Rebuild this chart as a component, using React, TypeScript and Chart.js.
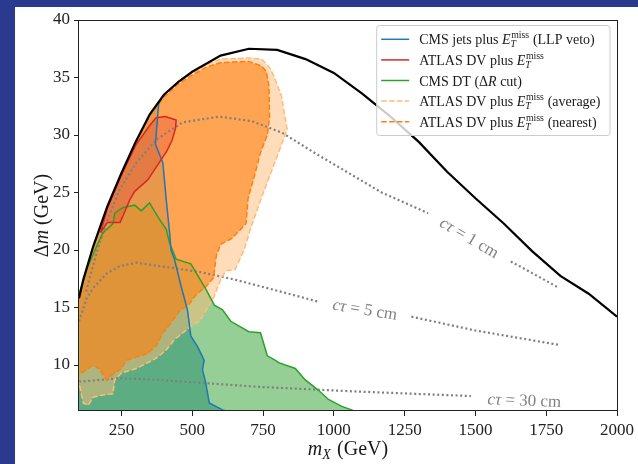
import React, { useEffect, useRef } from "react";
import { Chart, registerables } from "chart.js";

Chart.register(...registerables);

// ---- axes ----
const X_MIN = 100;
const X_MAX = 2000;
const Y_MIN = 6;
const Y_MAX = 40;
const X_TICKS = [250, 500, 750, 1000, 1250, 1500, 1750, 2000];
const Y_TICKS = [10, 15, 20, 25, 30, 35, 40];

// ---- kinematic edge (solid black) ----
const EDGE_X = [100, 115, 150, 200, 250, 300, 350, 400, 450, 500, 600, 700, 800, 900, 1000, 1100, 1200, 1300, 1400, 1500, 1600, 1700, 1800, 1900, 2000];
const EDGE_Y = [15.8, 17.4, 20.3, 23.8, 26.7, 29.4, 31.8, 33.5, 34.6, 35.5, 36.9, 37.5, 37.4, 36.6, 35.4, 33.6, 31.6, 29.4, 26.8, 24.5, 22.3, 19.9, 17.75, 16.2, 14.2];

// ---- CMS jets plus MET (LLP veto) ----
const JETS_X = [382, 374, 370, 396, 408, 420, 425, 437, 461, 483, 495, 519, 542, 536, 548, 560, 607, 622];
const JETS_Y = [32.9, 30.5, 29.2, 27.6, 24.4, 21.5, 20.0, 19.2, 16.8, 14.8, 12.5, 11.6, 10.4, 9.6, 8.4, 6.7, 6.1, 6.0];

// ---- ATLAS DV plus MET ----
const DV_X = [176, 200, 245, 256, 280, 297, 343, 378, 410, 428, 441, 443, 405, 372, 349, 300, 250, 200, 176];
const DV_Y = [21.5, 22.4, 22.4, 23.0, 24.4, 25.1, 26.1, 27.4, 28.6, 29.5, 30.6, 31.3, 31.6, 31.5, 30.8, 29.1, 26.5, 23.6, 21.5];

// ---- CMS DT (Delta R cut) ----
const DT_X = [100, 115, 127, 162, 185, 220, 226, 256, 297, 320, 349, 378, 408, 420, 443, 495, 548, 578, 607, 636, 700, 741, 765, 794, 805, 864, 899, 946, 981, 1028, 1063, 1070];
const DT_Y = [16.2, 17.3, 18.3, 20.3, 21.5, 22.3, 23.2, 23.7, 23.9, 23.4, 24.1, 22.9, 21.8, 20.6, 19.2, 18.8, 16.6, 15.2, 14.8, 13.8, 12.9, 12.8, 10.8, 10.4, 10.2, 9.7, 8.7, 7.8, 7.0, 6.4, 6.1, 6.0];

// ---- ATLAS DV plus MET (average) ----
const AVG_X = [100, 115, 150, 200, 250, 300, 350, 400, 450, 500, 550, 600, 700, 745, 775, 790, 815, 835, 822, 782, 742, 705, 683, 651, 620, 603, 573, 525, 502, 437, 408, 373, 343, 303, 250, 226, 220, 185, 150, 132, 115, 103, 100];
const AVG_Y = [15.6, 17.2, 20.1, 23.6, 26.5, 29.2, 31.6, 33.3, 34.4, 35.3, 36.1, 36.6, 36.7, 36.6, 35.8, 35.0, 33.4, 30.5, 29.6, 27.0, 24.4, 21.8, 20.0, 18.3, 18.2, 17.6, 15.7, 13.8, 13.5, 12.2, 11.3, 10.6, 10.2, 9.7, 9.3, 8.7, 7.5, 7.4, 7.2, 6.5, 6.7, 8.1, 8.5];

// ---- ATLAS DV plus MET (nearest) ----
const NEAR_X = [100, 115, 150, 200, 250, 300, 350, 400, 450, 500, 550, 600, 700, 745, 762, 771, 773, 765, 740, 718, 697, 690, 640, 600, 585, 575, 548, 513, 490, 455, 420, 396, 373, 343, 267, 250, 226, 197, 174, 150, 103, 100];
const NEAR_Y = [15.6, 17.2, 20.1, 23.6, 26.5, 29.2, 31.6, 33.3, 34.4, 35.2, 35.9, 36.3, 36.4, 36.0, 35.5, 34.2, 31.5, 30.0, 28.4, 26.3, 24.5, 22.3, 21.0, 20.5, 19.5, 17.6, 16.8, 16.1, 15.3, 14.7, 13.5, 12.8, 11.7, 11.0, 10.4, 9.7, 9.3, 8.7, 9.6, 10.0, 9.2, 9.2];

// ---- lifetime contours (dotted), split where the inline label sits ----
const CT1_A_X = [125, 139, 156, 174, 191, 244, 303, 373, 466, 595, 711, 817, 935, 1052, 1169, 1333];
const CT1_A_Y = [16.4, 17.7, 19.2, 20.7, 22.0, 25.3, 27.6, 29.6, 31.1, 31.6, 31.2, 30.2, 28.4, 26.7, 25.0, 23.2];
const CT1_B_X = [1625, 1700, 1795];
const CT1_B_Y = [19.0, 18.0, 16.7];
const CT5_A_X = [100, 127, 150, 200, 244, 303, 384, 525, 654, 794, 946];
const CT5_A_Y = [13.8, 15.8, 16.7, 18.0, 18.6, 18.9, 18.6, 18.1, 17.4, 16.5, 15.5];
const CT5_B_X = [1274, 1500, 1795];
const CT5_B_Y = [14.2, 13.0, 11.75];
const CT30_X = [100, 244, 384, 560, 735, 1075, 1484];
const CT30_Y = [8.55, 8.85, 8.7, 8.4, 8.1, 7.7, 7.3];
const CT30_LABEL_AT = { x: 1673, y: 6.95 };
const CT_VALUES = ["1", "5", "30"];

// ---- colours ----
const C_BLUE = "#1f77b4";
const C_RED = "#d62728";
const C_GREEN = "#2ca02c";
const C_AVG = "#ffbb78";
const C_NEAR = "#ff7f0e";
const C_DOT = "#7f7f7f";

const FAMILY = '"Liberation Serif", "Times New Roman", serif';
const font = (size: number, italic = false) => `${italic ? "italic " : ""}${size}px ${FAMILY}`;

const pts = (xs: number[], ys: number[]) => xs.map((x, i) => ({ x, y: ys[i] }));

// ---- rich text (italic math, super/subscripts) ----
type Piece = { t?: string; it?: boolean; sup?: string; sub?: string };
const rm = (t: string): Piece => ({ t });
const it = (t: string): Piece => ({ t, it: true });
const scr = (sup?: string, sub?: string): Piece => ({ sup, sub });

const MET: Piece[] = [it("E"), scr("miss", "T")];
const LEGEND_LABELS: Piece[][] = [
  [rm("CMS jets plus "), ...MET, rm(" (LLP veto)")],
  [rm("ATLAS DV plus "), ...MET],
  [rm("CMS DT ("), rm("\u0394"), it("R"), rm(" cut)")],
  [rm("ATLAS DV plus "), ...MET, rm(" (average)")],
  [rm("ATLAS DV plus "), ...MET, rm(" (nearest)")],
];
const X_TITLE: Piece[] = [it("m"), scr(undefined, "X"), rm(" (GeV)")];
const Y_TITLE: Piece[] = [rm("\u0394"), it("m"), rm(" (GeV)")];
const ctLabel = (v: string): Piece[] => [it("c"), it("\u03c4"), rm(` = ${v} cm`)];

function pieceWidth(ctx: CanvasRenderingContext2D, p: Piece, size: number) {
  if (p.t !== undefined) {
    ctx.font = font(size, p.it);
    return ctx.measureText(p.t).width;
  }
  const s = size * 0.7;
  let w = 0;
  if (p.sup) {
    ctx.font = font(s);
    w = Math.max(w, ctx.measureText(p.sup).width);
  }
  if (p.sub) {
    ctx.font = font(s, true);
    w = Math.max(w, ctx.measureText(p.sub).width);
  }
  return w + size * 0.06;
}
const richWidth = (ctx: CanvasRenderingContext2D, ps: Piece[], size: number) =>
  ps.reduce((w, p) => w + pieceWidth(ctx, p, size), 0);

function drawRich(ctx: CanvasRenderingContext2D, ps: Piece[], x: number, y: number, size: number) {
  let cx = x;
  ctx.textBaseline = "alphabetic";
  ctx.textAlign = "left";
  for (const p of ps) {
    if (p.t !== undefined) {
      ctx.font = font(size, p.it);
      ctx.fillText(p.t, cx, y);
    } else {
      const s = size * 0.7;
      if (p.sup) {
        ctx.font = font(s);
        ctx.fillText(p.sup, cx + size * 0.04, y - size * 0.42);
      }
      if (p.sub) {
        ctx.font = font(s, true);
        ctx.fillText(p.sub, cx, y + size * 0.2);
      }
    }
    cx += pieceWidth(ctx, p, size);
  }
}

// page backdrop, frame, inline labels, legend and axis titles
const decor = {
  id: "decor",
  beforeDraw(chart: any) {
    const { ctx, width, height } = chart;
    ctx.save();
    ctx.fillStyle = "#2a3a8e";
    ctx.fillRect(0, 0, width, height);
    ctx.fillStyle = "#ffffff";
    ctx.fillRect(15, 7, width - 15, height - 7);
    ctx.restore();
  },
  afterDatasetsDraw(chart: any) {
    const { ctx, chartArea: a, scales } = chart;
    const xs = scales.x;
    const ys = scales.y;
    const px = (x: number) => xs.getPixelForValue(x);
    const py = (y: number) => ys.getPixelForValue(y);
    ctx.save();

    // contour labels, centred in the gaps and aligned with the line
    ctx.fillStyle = "#808080";
    const labelSize = 17;
    const gaps = [
      { a: { x: CT1_A_X[CT1_A_X.length - 1], y: CT1_A_Y[CT1_A_Y.length - 1] }, b: { x: CT1_B_X[0], y: CT1_B_Y[0] } },
      { a: { x: CT5_A_X[CT5_A_X.length - 1], y: CT5_A_Y[CT5_A_Y.length - 1] }, b: { x: CT5_B_X[0], y: CT5_B_Y[0] } },
    ];
    const placements = gaps.map((g) => {
      const x0 = px(g.a.x), y0 = py(g.a.y), x1 = px(g.b.x), y1 = py(g.b.y);
      return { cx: (x0 + x1) / 2, cy: (y0 + y1) / 2, ang: Math.atan2(y1 - y0, x1 - x0) };
    });
    {
      const n = CT30_X.length;
      const ang = Math.atan2(py(CT30_Y[n - 1]) - py(CT30_Y[n - 2]), px(CT30_X[n - 1]) - px(CT30_X[n - 2]));
      placements.push({ cx: px(CT30_LABEL_AT.x), cy: py(CT30_LABEL_AT.y), ang });
    }
    placements.forEach((pl, i) => {
      const ps = ctLabel(CT_VALUES[i]);
      const w = richWidth(ctx, ps, labelSize);
      ctx.save();
      ctx.translate(pl.cx, pl.cy);
      ctx.rotate(pl.ang);
      drawRich(ctx, ps, -w / 2, labelSize * 0.33, labelSize);
      ctx.restore();
    });

    // frame
    ctx.strokeStyle = "#222";
    ctx.lineWidth = 1;
    ctx.strokeRect(Math.round(a.left) - 0.5, Math.round(a.top) + 0.5, Math.round(a.right - a.left) + 1, Math.round(a.bottom - a.top) - 1);

    // legend
    const size = 14;
    const sets = chart.data.datasets.filter((d: any) => d.legendIndex !== undefined).sort((p: any, q: any) => p.legendIndex - q.legendIndex);
    const textW = Math.max(...LEGEND_LABELS.map((l) => richWidth(ctx, l, size)));
    const rowH = 20.6;
    const boxW = textW + 43 + 9;
    const boxH = rowH * LEGEND_LABELS.length + 7;
    const bx = a.right - 7.5 - boxW;
    const by = a.top + 5;
    ctx.beginPath();
    ctx.roundRect(bx + 0.5, by + 0.5, boxW, boxH, 3);
    ctx.fillStyle = "rgba(255,255,255,0.8)";
    ctx.fill();
    ctx.strokeStyle = "#cccccc";
    ctx.lineWidth = 1;
    ctx.stroke();
    sets.forEach((d: any, i: number) => {
      const cy = by + 14.3 + i * rowH;
      ctx.beginPath();
      ctx.setLineDash(d.borderDash || []);
      ctx.strokeStyle = d.borderColor;
      ctx.lineWidth = d.borderWidth;
      ctx.moveTo(bx + 5, cy);
      ctx.lineTo(bx + 33, cy);
      ctx.stroke();
      ctx.setLineDash([]);
      ctx.fillStyle = "#1a1a1a";
      drawRich(ctx, LEGEND_LABELS[i], bx + 43, cy + 5, size);
    });

    // axis titles
    const tSize = 20;
    ctx.fillStyle = "#1a1a1a";
    const wx = richWidth(ctx, X_TITLE, tSize);
    drawRich(ctx, X_TITLE, (a.left + a.right) / 2 - wx / 2, 455, tSize);
    const wy = richWidth(ctx, Y_TITLE, tSize);
    ctx.save();
    ctx.translate(48, (a.top + a.bottom) / 2);
    ctx.rotate(-Math.PI / 2);
    drawRich(ctx, Y_TITLE, -wy / 2, 0, tSize);
    ctx.restore();

    ctx.restore();
  },
};

const fillSet = (label: string, data: any[], color: string, order: number) => ({
  label,
  data,
  fill: "shape",
  backgroundColor: color,
  borderColor: "rgba(0,0,0,0)",
  borderWidth: 0,
  pointRadius: 0,
  tension: 0,
  order,
});

const lineSet = (label: string, data: any[], color: string, width: number, dash: number[], order: number, legendIndex?: number) => ({
  label,
  data,
  fill: false,
  borderColor: color,
  borderWidth: width,
  borderDash: dash,
  borderCapStyle: "butt",
  pointRadius: 0,
  tension: 0,
  order,
  legendIndex,
});

export default function App() {
  const ref = useRef<HTMLCanvasElement | null>(null);

  useEffect(() => {
    if (!ref.current) return;
    const edge = pts(EDGE_X, EDGE_Y);
    const jets = pts(JETS_X, JETS_Y);
    const dt = pts(DT_X, DT_Y);
    const jetsStart = JETS_X[0];
    const jetsRegion = [...jets, { x: X_MIN, y: Y_MIN }, ...edge.filter((p) => p.x < jetsStart)];
    const dtRegion = [...dt, { x: X_MIN, y: Y_MIN }];
    const tickFont = { family: FAMILY, size: 17 };

    const chart = new Chart(ref.current, {
      type: "line",
      data: {
        datasets: [
          // fills, bottom to top
          fillSet("jets region", jetsRegion, "rgba(31,119,180,0.5)", 100),
          fillSet("DT region", dtRegion, "rgba(44,160,44,0.5)", 99),
          fillSet("average region", pts(AVG_X, AVG_Y), "rgba(255,187,120,0.5)", 98),
          fillSet("nearest region", pts(NEAR_X, NEAR_Y), "rgba(255,127,14,0.6)", 97),
          fillSet("DV region", pts(DV_X, DV_Y), "rgba(214,39,40,0.25)", 96),
          // lifetime contours
          lineSet("ct1a", pts(CT1_A_X, CT1_A_Y), C_DOT, 2.2, [2, 2.6], 50),
          lineSet("ct1b", pts(CT1_B_X, CT1_B_Y), C_DOT, 2.2, [2, 2.6], 50),
          lineSet("ct5a", pts(CT5_A_X, CT5_A_Y), C_DOT, 2.2, [2, 2.6], 50),
          lineSet("ct5b", pts(CT5_B_X, CT5_B_Y), C_DOT, 2.2, [2, 2.6], 50),
          lineSet("ct30", pts(CT30_X, CT30_Y), C_DOT, 2.2, [2, 2.6], 50),
          // outlines
          lineSet("ATLAS DV plus MET (average)", pts(AVG_X, AVG_Y), C_AVG, 1.5, [5.5, 2.4], 40, 3),
          lineSet("ATLAS DV plus MET (nearest)", pts(NEAR_X, NEAR_Y), C_NEAR, 1.5, [5.5, 2.4], 39, 4),
          lineSet("CMS DT", dt, C_GREEN, 1.5, [], 38, 2),
          lineSet("CMS jets plus MET (LLP veto)", jets, C_BLUE, 1.5, [], 37, 0),
          lineSet("ATLAS DV plus MET", pts(DV_X, DV_Y), C_RED, 1.5, [], 36, 1),
          lineSet("edge", edge, "#000000", 2.2, [], 30),
        ] as any,
      },
      options: {
        animation: false,
        responsive: false,
        devicePixelRatio: 1,
        events: [],
        layout: { padding: { left: 0, right: 18, top: 20, bottom: 0 } },
        plugins: { legend: { display: false }, tooltip: { enabled: false } },
        scales: {
          x: {
            type: "linear",
            min: X_MIN,
            max: X_MAX,
            afterBuildTicks: (s: any) => {
              s.ticks = X_TICKS.map((value) => ({ value }));
            },
            afterFit: (s: any) => {
              s.height = 53;
            },
            grid: { drawOnChartArea: false, drawTicks: true, tickLength: 5, color: "#222" },
            border: { display: false },
            ticks: { font: tickFont, color: "#222", padding: 4, maxRotation: 0, autoSkip: false, callback: (v: any) => String(v) },
          },
          y: {
            type: "linear",
            min: Y_MIN,
            max: Y_MAX,
            afterBuildTicks: (s: any) => {
              s.ticks = Y_TICKS.map((value) => ({ value }));
            },
            afterFit: (s: any) => {
              s.width = 79;
            },
            grid: { drawOnChartArea: false, drawTicks: true, tickLength: 5, color: "#222" },
            border: { display: false },
            ticks: { font: tickFont, color: "#222", padding: 4, autoSkip: false, callback: (v: any) => String(v) },
          },
        },
      } as any,
      plugins: [decor],
    });
    return () => chart.destroy();
  }, []);

  return (
    <div style={{ position: "fixed", left: 0, top: 0, width: 638, height: 464 }}>
      <canvas ref={ref} width={638} height={464} />
    </div>
  );
}
